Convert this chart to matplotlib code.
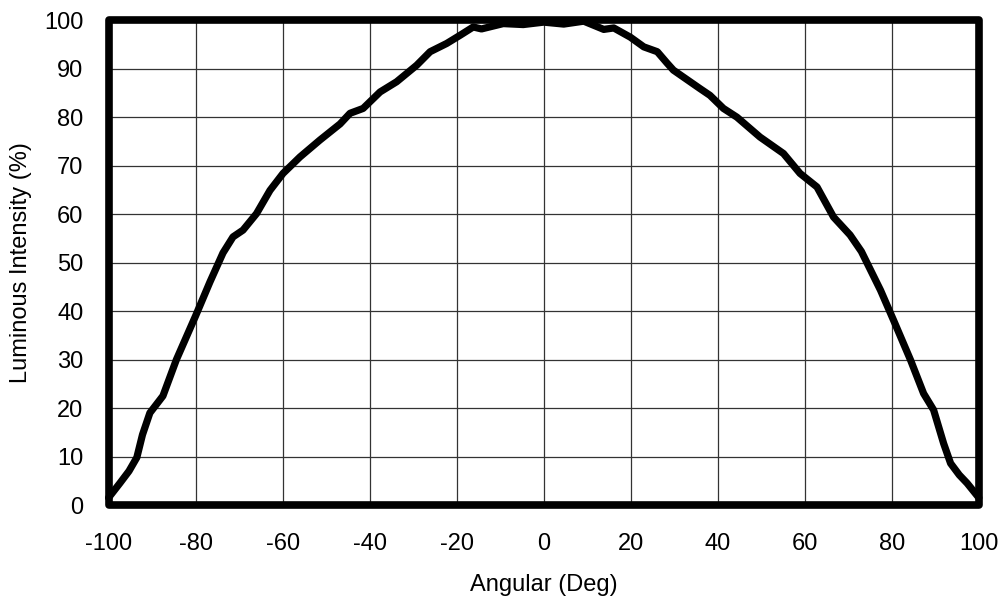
import numpy as np
import matplotlib
matplotlib.use("Agg")
import matplotlib.pyplot as plt
from matplotlib.patches import Rectangle

plt.rcParams['font.family'] = ['Liberation Sans', 'DejaVu Sans']

# angle (deg) / relative luminous intensity (%)
angle = [-100, -97.4, -95.3, -93.5, -92.2, -90.5, -87.5, -84.4, -80, -76.7, -73.7, -71.4,
         -69.1, -66, -62.9, -59.9, -56, -51.4, -46.8, -44.5, -41.5, -37.6,
         -33.8, -29.2, -26.1, -22.3, -19.2, -16.2, -14.3, -9.3, -4.7, 0,
         4.6, 9.2, 13.8, 16.1, 19.9, 23, 26.1, 28.3, 29.8, 35.9,
         38.2, 41.3, 44.4, 49.7, 55.1, 58.9, 62.8, 66.6, 70.4, 73.0,
         77.4, 80.4, 84.3, 87.3, 89.6, 91.9, 93.5, 95.5, 97.3, 100]
intensity = [1.5, 4.5, 7, 9.8, 14.5, 19, 22.5, 30, 39, 46, 52, 55.3,
             56.7, 60.1, 64.9, 68.4, 71.8, 75.3, 78.6, 80.8, 81.8, 85.2,
             87.3, 90.7, 93.5, 95.2, 96.9, 98.6, 98.2, 99.3, 99.1, 99.6,
             99.2, 99.8, 98.1, 98.4, 96.5, 94.5, 93.5, 91.2, 89.7, 85.9,
             84.5, 81.8, 80, 75.9, 72.5, 68.4, 65.6, 59.4, 55.7, 52.3,
             44.3, 38.1, 29.9, 23, 19.6, 12.7, 8.6, 6.2, 4.5, 1.5]

xticks = np.arange(-100, 101, 20)
yticks = np.arange(0, 101, 10)

fig = plt.figure(figsize=(10.05, 6.03), dpi=100)
ax = fig.add_axes([0.108, 0.1625, 0.866, 0.804])

ax.plot(angle, intensity, color='black', lw=5.2, solid_joinstyle='round',
        solid_capstyle='round', clip_on=False, zorder=3)

ax.set_xlim(-100, 100)
ax.set_ylim(0, 100)
ax.set_xticks(xticks)
ax.set_yticks(yticks)
ax.set_xticklabels([str(v) for v in xticks])
ax.tick_params(length=0, labelsize=17)
ax.tick_params(axis='x', pad=20)
ax.tick_params(axis='y', pad=18)
ax.grid(True, color='#333333', lw=0.9)
ax.set_axisbelow(True)

for s in ax.spines.values():
    s.set_visible(False)
ax.add_patch(Rectangle((0, 0), 1, 1, transform=ax.transAxes, fill=False,
                       lw=5.5, joinstyle='round', edgecolor='black',
                       clip_on=False, zorder=4))

ax.set_xlabel('Angular (Deg)', fontsize=17, labelpad=14)
ax.set_ylabel('Luminous Intensity (%)', fontsize=17, labelpad=9)

fig.savefig('out.png', dpi=100)
